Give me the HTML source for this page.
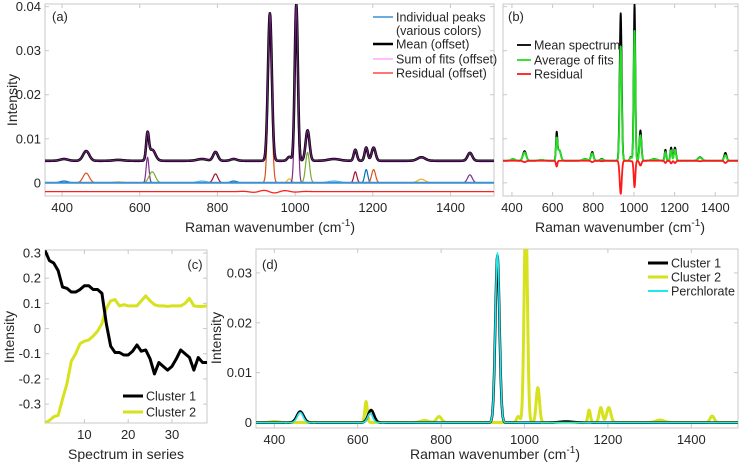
<!DOCTYPE html>
<html><head><meta charset="utf-8"><style>
html,body{margin:0;padding:0;background:#fff;}
svg{display:block;font-family:"Liberation Sans",sans-serif;}
</style></head><body>
<svg id="fig" width="740" height="466" viewBox="0 0 740 466" xmlns="http://www.w3.org/2000/svg"></svg>
<script>
// ---- data ----
const peakCenters = [405, 462, 545, 620, 632, 760, 795, 842, 935, 985, 1003, 1032, 1100, 1155, 1183, 1202, 1325, 1450];
const peakWidths  = [10, 8, 12, 3.5, 8, 12, 6, 8, 5, 5, 4, 5, 15, 4, 4, 5, 10, 6];
const meanHeights = [0.0004, 0.0022, 0.0002, 0.0058, 0.0025, 0.0004, 0.002, 0.0004, 0.0335, 0.0009, 0.0355, 0.0069, 0.0004, 0.0025, 0.003, 0.003, 0.0008, 0.0018];
const fitHeights  = [0.0004, 0.0019, 0.0002, 0.0045, 0.0025, 0.0004, 0.0017, 0.0003, 0.026, 0.0008, 0.0295, 0.0058, 0.0004, 0.0020, 0.0024, 0.0025, 0.0007, 0.0013];
const meanOffset = 0.005;
const residOffset = -0.002;
const wnTicks = [400, 600, 800, 1000, 1200, 1400];
const yTicksA = [0, 0.01, 0.02, 0.03, 0.04];
const yTickLabelsA = ["0", "0.01", "0.02", "0.03", "0.04"];
const yTicksD = [0, 0.01, 0.02, 0.03];
const yTickLabelsD = ["0", "0.01", "0.02", "0.03"];
const seriesIndex = [1,2,3,4,5,6,7,8,9,10,11,12,13,14,15,16,17,18,19,20,21,22,23,24,25,26,27,28,29,30,31,32,33,34,35,36,37,38];
const cluster1Scores = [0.31,0.27,0.26,0.23,0.165,0.16,0.145,0.145,0.155,0.17,0.17,0.155,0.155,0.14,0.02,-0.07,-0.095,-0.095,-0.105,-0.105,-0.09,-0.065,-0.09,-0.085,-0.12,-0.18,-0.135,-0.15,-0.165,-0.15,-0.12,-0.085,-0.1,-0.115,-0.165,-0.115,-0.135,-0.135];
const cluster2Scores = [-0.375,-0.365,-0.35,-0.345,-0.28,-0.22,-0.13,-0.1,-0.06,-0.05,-0.045,-0.03,-0.01,0.02,0.08,0.11,0.115,0.09,0.095,0.09,0.09,0.09,0.11,0.13,0.11,0.095,0.09,0.09,0.088,0.09,0.09,0.09,0.1,0.12,0.09,0.088,0.088,0.09];
const cTicksX = [10, 20, 30];
const cTicksY = [-0.3, -0.2, -0.1, 0, 0.1, 0.2, 0.3];
const cTickLabelsY = ["-0.3", "-0.2", "-0.1", "0", "0.1", "0.2", "0.3"];
const cl1Centers = [462, 632, 935, 1100];
const cl1Widths = [8, 7, 5, 15];
const cl1Heights = [0.0022, 0.0025, 0.0335, 0.0002];
const percCenters = [462, 630, 935];
const percWidths = [7, 6, 5];
const percHeights = [0.002, 0.0018, 0.034];
const cl2Centers = [400, 620, 760, 795, 985, 1003, 1032, 1155, 1183, 1202, 1325, 1450];
const cl2Widths = [10, 3, 10, 6, 4, 4, 4, 3, 4, 5, 10, 5];
const cl2Heights = [0.0002, 0.0042, 0.0004, 0.0012, 0.0012, 0.042, 0.007, 0.0025, 0.003, 0.003, 0.0005, 0.0013];
const peakColors = ["#0072BD","#D95319","#EDB120","#7E2F8E","#77AC30","#4DBEEE","#A2142F"];

// ---- helpers ----
const NS = "http://www.w3.org/2000/svg";
const svg = document.getElementById("fig");
function el(tag, attrs, parent) {
  const e = document.createElementNS(NS, tag);
  for (const k in attrs) e.setAttribute(k, attrs[k]);
  (parent || svg).appendChild(e);
  return e;
}
function lin(d0, d1, r0, r1) { return v => r0 + (v - d0) * (r1 - r0) / (d1 - d0); }
const wn = []; for (let w = 356; w <= 1512; w += 1) wn.push(w);
function spec(centers, widths, heights, off) {
  return wn.map(w => { let s = off; for (let i = 0; i < centers.length; i++) { const z = (w - centers[i]) / widths[i]; s += heights[i] * Math.exp(-0.5 * z * z); } return s; });
}
function pathD(xs, ys, sx, sy) { return xs.map((x, i) => (i ? "L" : "M") + sx(x).toFixed(2) + " " + sy(ys[i]).toFixed(2)).join(""); }
function text(x, y, s, size, anchor, parent) {
  const t = el("text", {x: x, y: y, "font-size": size, "text-anchor": anchor || "start", fill: "#262626"}, parent);
  t.textContent = s; return t;
}
function axesBox(name, L, T, R, B) {
  const g = el("g", {});
  
  
  const clip = el("clipPath", {id: "clip-" + name}, g);
  el("rect", {x: L, y: T, width: R - L, height: B - T}, clip);
  return g;
}
function frame(g, L, T, R, B) {
  el("rect", {x: L, y: T, width: R - L, height: B - T, fill: "none", stroke: "#c8c8c8", "stroke-width": 1}, g);
}
function xTicks(g, ticks, labels, sx, T, B, ly) {
  ticks.forEach((t, i) => {
    el("line", {x1: sx(t), x2: sx(t), y1: B, y2: B - 4, stroke: "#c8c8c8"}, g);
    el("line", {x1: sx(t), x2: sx(t), y1: T, y2: T + 4, stroke: "#c8c8c8"}, g);
    const tl = text(sx(t), ly, labels[i], 13, "middle", g);
    
    
  });
}
function yTicks(g, ticks, labels, sy, L, R, lx) {
  ticks.forEach((t, i) => {
    el("line", {x1: L, x2: L + 4, y1: sy(t), y2: sy(t), stroke: "#c8c8c8"}, g);
    el("line", {x1: R, x2: R - 4, y1: sy(t), y2: sy(t), stroke: "#c8c8c8"}, g);
    if (labels) {
      const tl = text(lx, sy(t) + 4.5, labels[i], 13, "end", g);
      
      
    }
  });
}
function series(g, name, d, color, w, clipName) {
  const p = el("path", {d: d, fill: "none", stroke: color, "stroke-width": w, "stroke-linejoin": "round", "clip-path": "url(#clip-" + clipName + ")"}, g);
  
  
  return p;
}
function legendEntry(g, x1, x2, y, color, w, label, name) {
  const lg = el("g", {}, g);
  
  
  el("line", {x1: x1, x2: x2, y1: y, y2: y, stroke: color, "stroke-width": w}, lg);
  text(x2 + 3, y + 4.5, label, 12.5, "start", lg);
  return lg;
}
function ylabel(g, x, y, s) {
  const t = el("text", {x: 0, y: 0, "font-size": 14, "text-anchor": "middle", fill: "#262626", transform: "translate(" + x + "," + y + ") rotate(-90)"}, g);
  t.textContent = s;
  
  
}
function wnLabel(g, x, y) {
  const t = el("text", {x: x, y: y, "font-size": 14, "text-anchor": "middle", fill: "#262626"}, g);
  
  
  t.appendChild(document.createTextNode("Raman wavenumber (cm"));
  const sup = el("tspan", {"font-size": 10, dy: -6}, t); sup.textContent = "-1";
  const cl = el("tspan", {dy: 6}, t); cl.textContent = ")";
}

const wnLabels = wnTicks.map(String);
const meanSpec = spec(peakCenters, peakWidths, meanHeights, 0);
const fitSpec = spec(peakCenters, peakWidths, fitHeights, 0);

// ---- panel (a) ----
{
  const L = 45, T = 4, R = 494, B = 196;
  const g = axesBox("panel-a", L, T, R, B);
  const sx = lin(356, 1512, L, R), sy = lin(-0.003, 0.0406, B, T);
  frame(g, L, T, R, B);
  xTicks(g, wnTicks, wnLabels, sx, T, B, 212);
  yTicks(g, yTicksA, yTickLabelsA, sy, L, R, 41);
  peakCenters.forEach((c, i) => {
    const ys = wn.map(w => { const z = (w - c) / peakWidths[i]; return meanHeights[i] * Math.exp(-0.5 * z * z); });
    series(g, "individual-peak", pathD(wn, ys, sx, sy), peakColors[i % 7], 1.2, "panel-a");
  });
  series(g, "individual-peaks-baseline", pathD(wn, wn.map(() => 0), sx, sy), "#3d8fd1", 2, "panel-a");
  const resid = wn.map((w, i) => residOffset + 0.0003 * Math.sin(w / 9) * Math.exp(-Math.pow((w - 940) / 60, 2)));
  series(g, "residual-line", pathD(wn, resid, sx, sy), "#ff2020", 1.3, "panel-a");
  series(g, "mean-line", pathD(wn, meanSpec.map(v => v + meanOffset), sx, sy), "#000", 2.6, "panel-a");
  series(g, "sum-of-fits-line", pathD(wn, meanSpec.map(v => v + meanOffset), sx, sy), "#6a1f78", 1.2, "panel-a");
  const al = text(52, 21, "(a)", 13, "start", g);
   
  const lg = el("g", {}, g);
   
  legendEntry(lg, 373, 393, 17, "#3d8fd1", 1.5, "Individual peaks", "legend-entry-individual-peaks");
  text(396, 35, "(various colors)", 12.5, "start", lg);
  legendEntry(lg, 373, 393, 44, "#000", 2.4, "Mean (offset)", "legend-entry-mean");
  legendEntry(lg, 373, 393, 59, "#ff99ff", 1.3, "Sum of fits (offset)", "legend-entry-sum-of-fits");
  legendEntry(lg, 373, 393, 73, "#ff2020", 1.3, "Residual (offset)", "legend-entry-residual");
  ylabel(g, 17, 100, "Intensity");
  wnLabel(g, 270, 232);
}

// ---- panel (b) ----
{
  const L = 503, T = 4, R = 738, B = 196;
  const g = axesBox("panel-b", L, T, R, B);
  const sx = lin(356, 1512, L, R), sy = lin(-0.003, 0.0406, B, T);
  frame(g, L, T, R, B);
  xTicks(g, wnTicks, wnLabels, sx, T, B, 212);
  yTicks(g, yTicksA, null, sy, L, R, 0);
  series(g, "mean-spectrum-line", pathD(wn, meanSpec.map(v => v + meanOffset), sx, sy), "#000", 1.8, "panel-b");
  series(g, "average-of-fits-line", pathD(wn, fitSpec.map(v => v + meanOffset), sx, sy), "#22e022", 1.8, "panel-b");
  series(g, "residual-line-b", pathD(wn, fitSpec.map((v, i) => v - meanSpec[i] + meanOffset), sx, sy), "#ff1a1a", 1.8, "panel-b");
  const bl = text(508, 21, "(b)", 13, "start", g);
   
  const lg = el("g", {}, g);
   
  legendEntry(lg, 517, 531, 45, "#000", 1.8, "Mean spectrum", "legend-entry-mean-spectrum");
  legendEntry(lg, 517, 531, 60, "#22e022", 1.8, "Average of fits", "legend-entry-average-of-fits");
  legendEntry(lg, 517, 531, 74, "#ff1a1a", 1.8, "Residual", "legend-entry-residual-b");
  wnLabel(g, 620, 232);
}

// ---- panel (c) ----
{
  const L = 45, T = 250, R = 207, B = 423;
  const g = axesBox("panel-c", L, T, R, B);
  const sx = lin(1, 38, L, R), sy = lin(-0.375, 0.312, B, T);
  frame(g, L, T, R, B);
  xTicks(g, cTicksX, cTicksX.map(String), sx, T, B, 439);
  yTicks(g, cTicksY, cTickLabelsY, sy, L, R, 41);
  series(g, "cluster-2-scores", pathD(seriesIndex, cluster2Scores, sx, sy), "#d7e21e", 3, "panel-c");
  series(g, "cluster-1-scores", pathD(seriesIndex, cluster1Scores, sx, sy), "#000", 3, "panel-c");
  const cl = text(195, 269, "(c)", 13, "middle", g);
   
  const lg = el("g", {}, g);
   
  legendEntry(lg, 123, 143, 396, "#000", 3, "Cluster 1", "legend-entry-cluster-1-c");
  legendEntry(lg, 123, 143, 412, "#d7e21e", 3, "Cluster 2", "legend-entry-cluster-2-c");
  ylabel(g, 14, 337, "Intensity");
  const xt = text(126, 459, "Spectrum in series", 14, "middle", g);
   
}

// ---- panel (d) ----
{
  const L = 256, T = 249, R = 738, B = 428;
  const g = axesBox("panel-d", L, T, R, B);
  const sx = lin(356, 1512, L, R), sy = lin(-0.0011, 0.0348, B, T);
  frame(g, L, T, R, B);
  xTicks(g, wnTicks, wnLabels, sx, T, B, 444);
  yTicks(g, yTicksD, yTickLabelsD, sy, L, R, 252);
  series(g, "cluster-2-spectrum", pathD(wn, spec(cl2Centers, cl2Widths, cl2Heights, 0), sx, sy), "#d7e21e", 3, "panel-d");
  series(g, "cluster-1-spectrum", pathD(wn, spec(cl1Centers, cl1Widths, cl1Heights, 0), sx, sy), "#000", 2.6, "panel-d");
  series(g, "perchlorate-spectrum", pathD(wn, spec(percCenters, percWidths, percHeights, 0), sx, sy), "#1ee8ee", 1.6, "panel-d");
  const dl = text(262, 269, "(d)", 13, "start", g);
   
  const lg = el("g", {}, g);
   
  legendEntry(lg, 648, 668, 263, "#000", 3, "Cluster 1", "legend-entry-cluster-1-d");
  legendEntry(lg, 648, 668, 277, "#d7e21e", 3, "Cluster 2", "legend-entry-cluster-2-d");
  legendEntry(lg, 648, 668, 291, "#1ee8ee", 2, "Perchlorate", "legend-entry-perchlorate");
  ylabel(g, 221, 338, "Intensity");
  wnLabel(g, 495, 459);
}
</script>
</body></html>
